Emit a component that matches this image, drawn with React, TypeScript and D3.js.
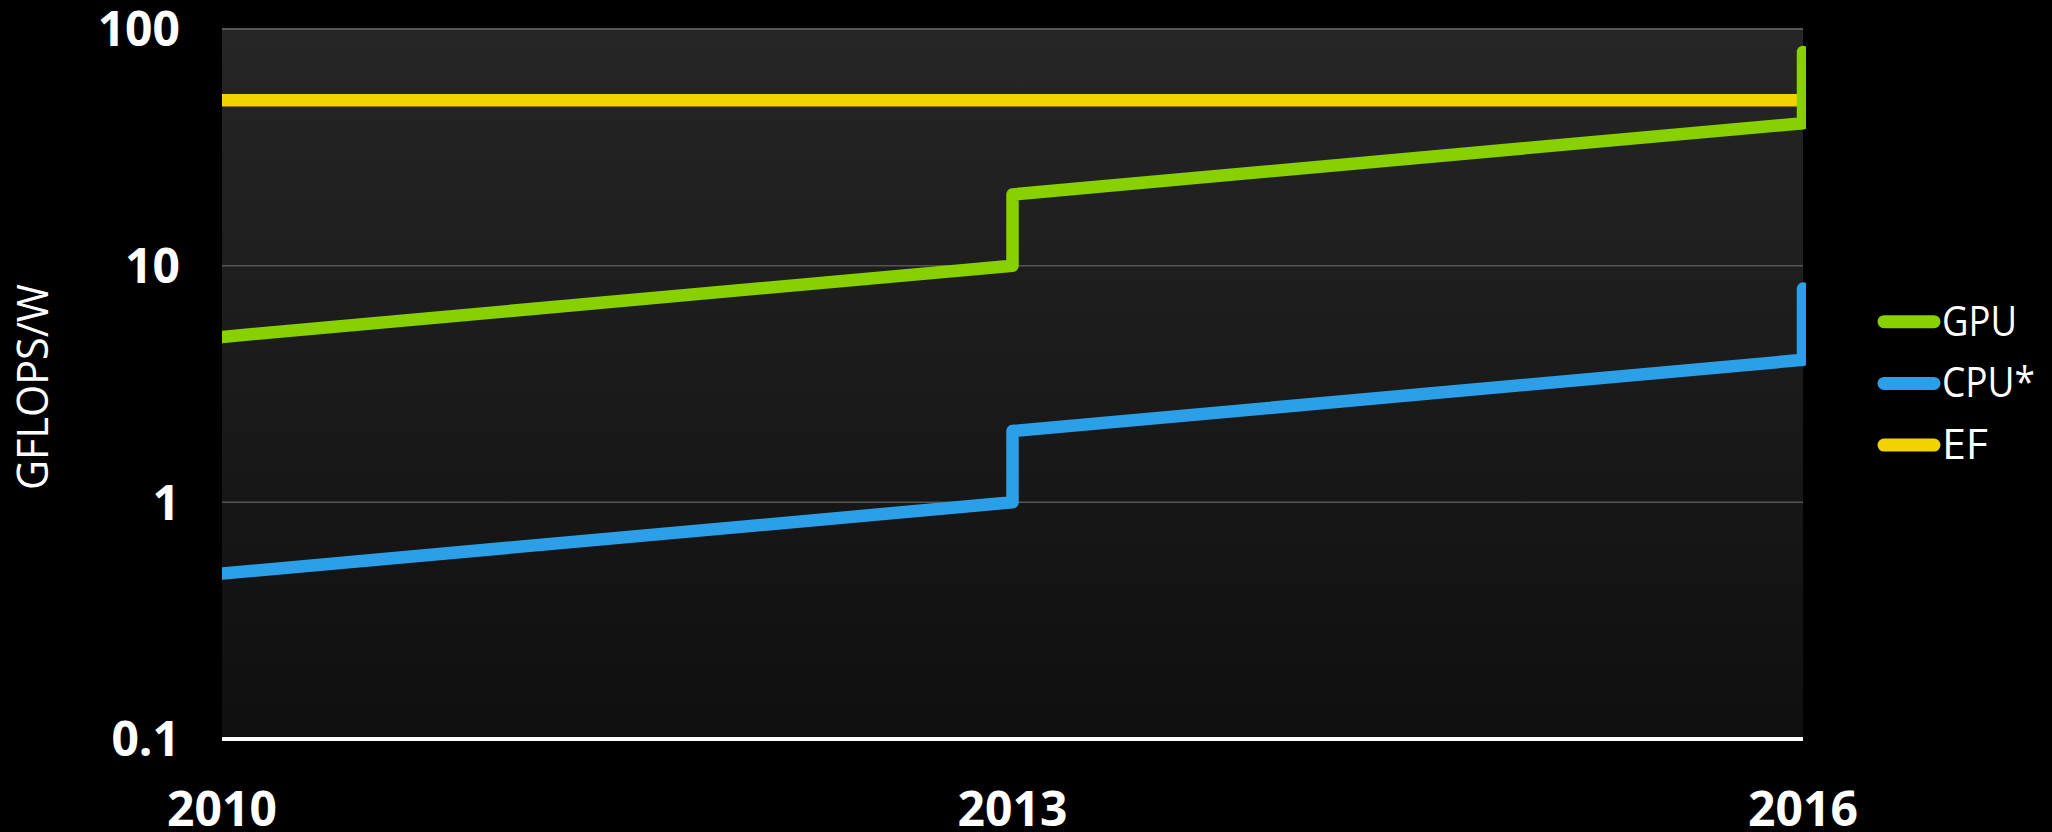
import React from "react";
import * as d3 from "d3";

const xTickYears = [2010, 2013, 2016];
const yTickValues = [0.1, 1, 10, 100];
const yTickLabels = ["0.1", "1", "10", "100"];

const gpuYears = [2010, 2013, 2013, 2016, 2016];
const gpuValues = [5, 10, 20, 40, 80];
const cpuYears = [2010, 2013, 2013, 2016, 2016];
const cpuValues = [0.5, 1, 2, 4, 8];
const efYears = [2010, 2016];
const efValues = [50, 50];

const seriesNames = ["GPU", "CPU*", "EF"];
const seriesColors = ["#88d000", "#2ba0e8", "#f2d200"];

const W = 2052;
const H = 832;
const left = 222;
const right = 1803;
const top = 29;
const bottom = 739;

export default function App() {
  const x = d3.scaleLinear().domain([2010, 2016]).range([left, right]);
  const y = d3.scaleLog().domain([0.1, 100]).range([bottom, top]);
  const line = d3
    .line<[number, number]>()
    .x((d) => x(d[0]))
    .y((d) => y(d[1]));

  const series = [
    { name: seriesNames[0], color: seriesColors[0], pts: gpuYears.map((yr, i) => [yr, gpuValues[i]] as [number, number]) },
    { name: seriesNames[1], color: seriesColors[1], pts: cpuYears.map((yr, i) => [yr, cpuValues[i]] as [number, number]) },
    { name: seriesNames[2], color: seriesColors[2], pts: efYears.map((yr, i) => [yr, efValues[i]] as [number, number]) },
  ];
  const drawOrder = [2, 0, 1];

  const legendX0 = 1884;
  const legendX1 = 1934;
  const legendY0 = 321.7;
  const legendStep = 61.7;
  const legendTextLen = [75, 93, 46];

  return (
    <svg
      width={W}
      height={H}
      style={{ position: "absolute", left: 0, top: 0, background: "#000", display: "block" }}
    >
      <defs>
        <linearGradient id="bg" x1="0" y1="0" x2="0" y2="1">
          <stop offset="0%" stopColor="#262626" />
          <stop offset="100%" stopColor="#0f0f0f" />
        </linearGradient>
        <clipPath id="clip">
          <rect x={left} y={0} width={right - left + 3} height={H} />
        </clipPath>
      </defs>
      <rect x={0} y={0} width={W} height={H} fill="#000" />
      <rect x={left} y={top} width={right - left} height={bottom - top} fill="url(#bg)" />
      {yTickValues.map((v, i) =>
        i === 0 ? null : (
          <line
            key={"g" + v}
            x1={left}
            x2={right}
            y1={y(v)}
            y2={y(v)}
            stroke={i === 3 ? "#6e6e6e" : "#555"}
            strokeWidth={1.5}
          />
        )
      )}
      <g clipPath="url(#clip)">
        {drawOrder.map((k) => (
          <path
            key={series[k].name}
            d={line(series[k].pts) || ""}
            fill="none"
            stroke={series[k].color}
            strokeWidth={12.5}
            strokeLinejoin="round"
            strokeLinecap="round"
          />
        ))}
      </g>
      <line x1={left} x2={right} y1={bottom} y2={bottom} stroke="#fff" strokeWidth={4} />
      {yTickValues.map((v, i) => (
        <text
          key={"yl" + v}
          x={180}
          y={y(v)}
          dy="0.36em"
          textAnchor="end"
          fill="#fff"
          fontFamily="'Open Sans', sans-serif"
          fontWeight="bold"
          fontSize={48}
        >
          {yTickLabels[i]}
        </text>
      ))}
      {xTickYears.map((yr) => (
        <text
          key={"xl" + yr}
          x={x(yr)}
          y={826}
          textAnchor="middle"
          fill="#fff"
          fontFamily="'Open Sans', sans-serif"
          fontWeight="bold"
          fontSize={48}
        >
          {yr}
        </text>
      ))}
      <text
        transform={`translate(48, 387) rotate(-90)`}
        textAnchor="middle"
        fill="#fff"
        fontFamily="'Open Sans', sans-serif"
        fontSize={44}
        textLength={206}
        lengthAdjust="spacingAndGlyphs"
      >
        GFLOPS/W
      </text>
      {series.map((s, i) => (
        <g key={"lg" + s.name}>
          <line
            x1={legendX0}
            x2={legendX1}
            y1={legendY0 + i * legendStep}
            y2={legendY0 + i * legendStep}
            stroke={s.color}
            strokeWidth={13}
            strokeLinecap="round"
          />
          <text
            x={1942}
            y={legendY0 + i * legendStep + 14}
            fill="#fff"
            fontFamily="'Open Sans', sans-serif"
            fontSize={42}
            textLength={legendTextLen[i]}
            lengthAdjust="spacingAndGlyphs"
          >
            {s.name}
          </text>
        </g>
      ))}
    </svg>
  );
}
